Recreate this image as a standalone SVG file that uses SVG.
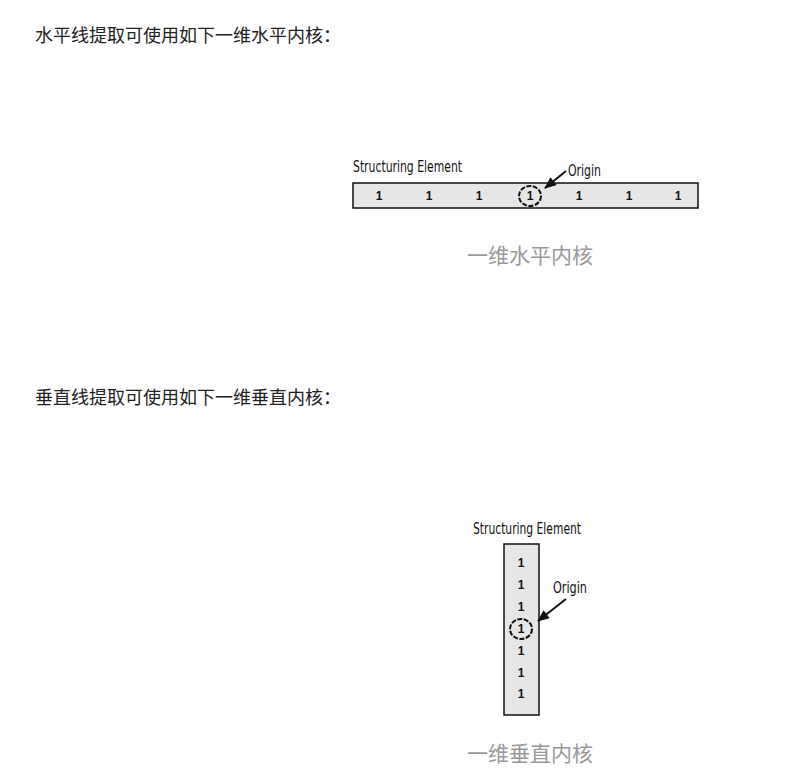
<svg xmlns="http://www.w3.org/2000/svg" width="811" height="772" viewBox="0 0 811 772">
<style>
.hdr{font-family:"Noto Sans CJK SC","Noto Sans",sans-serif;font-size:18px;fill:#222}
.cap{font-family:"Noto Sans CJK SC","Noto Sans",sans-serif;font-size:21px;fill:#999;text-anchor:middle}
.lbl{font-family:"DejaVu Sans","Liberation Sans",sans-serif;font-size:16px;fill:#111;font-stretch:condensed}
.dig{font-family:"Liberation Sans",Arial,sans-serif;font-size:12px;font-weight:bold;fill:#111;text-anchor:middle}
.box{fill:#e6e6e6;stroke:#111;stroke-width:1.5}
.org{fill:none;stroke:#111;stroke-width:2;stroke-dasharray:5 1.5}
.arr{stroke:#111;stroke-width:2;fill:none;marker-end:url(#ah)}
</style>
<defs>
<marker id="ah" viewBox="0 0 12 10" refX="11" refY="5" markerWidth="6.5" markerHeight="5" orient="auto" markerUnits="strokeWidth">
<path d="M0,0 L12,5 L0,10 z" fill="#111"/>
</marker>
</defs>
<rect width="811" height="772" fill="#fff"/>
<text class="hdr" x="35" y="42">水平线提取可使用如下一维水平内核：</text>
<text class="hdr" x="35" y="404">垂直线提取可使用如下一维垂直内核：</text>

<g id="horizontal-kernel">
<text class="lbl" x="353" y="172" textLength="109" lengthAdjust="spacingAndGlyphs">Structuring Element</text>
<rect class="box" x="353" y="183" width="345" height="25"/>
<text class="dig" x="379" y="200">1</text>
<text class="dig" x="429" y="200">1</text>
<text class="dig" x="479" y="200">1</text>
<text class="dig" x="530" y="200">1</text>
<text class="dig" x="579" y="200">1</text>
<text class="dig" x="629" y="200">1</text>
<text class="dig" x="678" y="200">1</text>
<ellipse class="org" cx="530" cy="196" rx="11" ry="10"/>
<text class="lbl" x="568" y="176" textLength="33" lengthAdjust="spacingAndGlyphs">Origin</text>
</g>

<g id="vertical-kernel">
<text class="lbl" x="473" y="534" textLength="108" lengthAdjust="spacingAndGlyphs">Structuring Element</text>
<rect class="box" x="504" y="544" width="35" height="171"/>
<text class="dig" x="521" y="567">1</text>
<text class="dig" x="521" y="589">1</text>
<text class="dig" x="521" y="611">1</text>
<text class="dig" x="521" y="633">1</text>
<text class="dig" x="521" y="655">1</text>
<text class="dig" x="521" y="677">1</text>
<text class="dig" x="521" y="698">1</text>
<ellipse class="org" cx="521" cy="629" rx="11" ry="10"/>
<text class="lbl" x="553" y="593" textLength="34" lengthAdjust="spacingAndGlyphs">Origin</text>
</g>

<g id="connectors">
<line class="arr" x1="566" y1="171" x2="545" y2="188"/>
<line class="arr" x1="566" y1="599" x2="538" y2="621"/>
</g>

<text class="cap" x="530" y="263">一维水平内核</text>
<text class="cap" x="530" y="761">一维垂直内核</text>
</svg>
